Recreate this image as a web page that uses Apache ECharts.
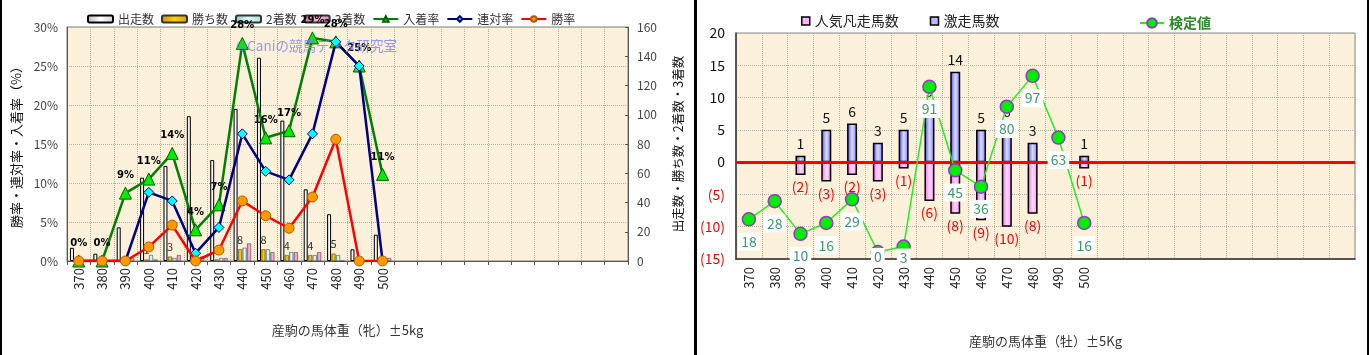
<!DOCTYPE html>
<html><head><meta charset="utf-8">
<script src="https://cdn.jsdelivr.net/npm/echarts@6/dist/echarts.min.js"></script>
<style>
html,body{margin:0;padding:0;background:#fff;}
#L{position:absolute;left:0;top:0;width:694px;height:355px;}
#R{position:absolute;left:697px;top:0;width:670px;height:355px;}
.b{position:absolute;top:0;height:355px;background:#000;}
</style></head>
<body>
<div id="L"></div><div id="R"></div>
<div class="b" style="left:0;width:2px"></div>
<div class="b" style="left:694px;width:3px"></div>
<div class="b" style="left:1367px;width:2px"></div>
<script>
// ---- categories (body weight ±5kg) ----
const weights = ['370','380','390','400','410','420','430','440','450','460','470','480','490','500',
                 '510','520','530','540','550','560','570','580','590','600'];
const lastLabeled = 500;

// ---- left chart (fillies) ----
const runners = [9,5,23,57,65,99,69,104,139,96,49,32,8,18];
const wins    = [0,0,0,1,3,0,1,8,8,4,4,5,0,0];
const seconds = [0,0,0,4,2,1,2,9,8,6,4,4,2,0];
const thirds  = [0,0,2,1,4,3,2,12,6,6,6,0,0,2];
const placeRate  = [0,0,8.7,10.5,13.8,4.0,7.2,27.9,15.8,16.7,28.6,28.1,25.0,11.1];
const rentaiRate = [0,0,0,8.8,7.7,1.0,4.3,16.3,11.5,10.4,16.3,28.1,25.0,0];
const winRate    = [0,0,0,1.8,4.6,0,1.4,7.7,5.8,4.2,8.2,15.6,0,0];
const leftTicks = {min:0,max:30,step:5};
const rightTicks = {min:0,max:160,step:20};

// ---- right chart (colts) ----
const upsetCounts   = [0,0,1,5,6,3,5,9,14,5,6,3,0,1];   // 激走馬数
const flopCounts    = [0,0,2,3,2,3,1,6,8,9,10,8,0,1];   // 人気凡走馬数
const testValues    = [18,28,10,16,29,0,3,91,45,36,80,97,63,16]; // 検定値

const FONT = '"Noto Sans CJK JP","Noto Sans CJK SC",sans-serif';
const BG = '#fbf0d9';
function hgrad(e1,c,e2){return new echarts.graphic.LinearGradient(0,0,1,0,[{offset:0,color:e1},{offset:0.5,color:c},{offset:1,color:e2}]);}
const xLabelFmt = v => (Number(v) <= lastLabeled ? v : '');

const L = echarts.init(document.getElementById('L'), null, {renderer:'canvas'});
const barCommon = {type:'bar', yAxisIndex:1, barWidth:4, barGap:'12%'};
L.setOption({
  animation:false,
  textStyle:{fontFamily:FONT},
  legend:{left:82, top:8, itemWidth:25, itemHeight:7, itemGap:7,
    textStyle:{fontSize:12, color:'#333'},
    data:['出走数','勝ち数','2着数','3着数','入着率','連対率','勝率']},
  graphic:[{type:'text', left:236, top:39, z:100, silent:true,
    style:{text:'©Caniの競馬データ研究室', fill:'rgba(125,125,255,0.8)', font:'13.5px '+FONT}}],
  grid:{left:67, top:27, width:561, height:234, show:true, backgroundColor:BG, borderColor:'#808080', borderWidth:1},
  xAxis:{type:'category', data:weights, name:'産駒の馬体重（牝）±5kg', nameLocation:'middle', nameGap:63,
    nameTextStyle:{fontSize:13, color:'#333'},
    axisLabel:{rotate:90, fontSize:13, color:'#222', interval:0, margin:7, formatter:xLabelFmt},
    axisTick:{show:true, length:4, lineStyle:{color:'#555'}},
    axisLine:{lineStyle:{color:'#555'}},
    splitLine:{show:true, lineStyle:{type:'dotted', color:'#b5ada0'}}},
  yAxis:[
    {type:'value', position:'left', min:leftTicks.min, max:leftTicks.max, interval:leftTicks.step,
     name:'勝率・連対率・入着率（%）', nameLocation:'middle', nameGap:40, nameRotate:90,
     nameTextStyle:{fontSize:13, color:'#111'},
     axisLabel:{formatter:'{value}%', fontSize:12, color:'#444', margin:9},
     axisLine:{show:true, lineStyle:{color:'#555'}}, axisTick:{show:false},
     splitLine:{show:true, lineStyle:{type:'dotted', color:'#b5ada0'}}},
    {type:'value', position:'right', min:rightTicks.min, max:rightTicks.max, interval:rightTicks.step,
     name:'出走数・勝ち数・2着数・3着数', nameLocation:'middle', nameGap:44, nameRotate:90,
     nameTextStyle:{fontSize:12.5, color:'#111'},
     axisLabel:{fontSize:12, color:'#444', margin:9},
     axisLine:{show:true, lineStyle:{color:'#555'}}, axisTick:{show:true, inside:true, length:3},
     splitLine:{show:false}}
  ],
  series:[
    Object.assign({name:'出走数', data:runners, itemStyle:{color:hgrad('#b8b8b8','#ffffff','#d0d0d0'), borderColor:'#000', borderWidth:1}}, barCommon),
    Object.assign({name:'勝ち数', data:wins, itemStyle:{color:hgrad('#c89200','#ffd000','#d9a000'), borderColor:'#333', borderWidth:0.5},
      label:{show:true, position:'top', fontSize:11, color:'#333', distance:4, formatter:p=>p.value>0?p.value:''}}, barCommon),
    Object.assign({name:'2着数', data:seconds, itemStyle:{color:hgrad('#88c4c4','#ddffff','#a8dddd'), borderColor:'#333', borderWidth:0.5}}, barCommon),
    Object.assign({name:'3着数', data:thirds, itemStyle:{color:hgrad('#d070a8','#ffb0d8','#e090c0'), borderColor:'#333', borderWidth:0.5}}, barCommon),
    {name:'入着率', type:'line', yAxisIndex:0, data:placeRate, z:5, symbol:'triangle', symbolSize:12,
     lineStyle:{color:'#008000', width:2.5}, itemStyle:{color:'#00ee00', borderColor:'#006000', borderWidth:1},
     label:{show:true, position:'top', distance:6, fontSize:10, fontWeight:'bold', color:'#000', fontFamily:'DejaVu Sans',
            formatter:p=>Math.round(p.value)+'%'}},
    {name:'連対率', type:'line', yAxisIndex:0, data:rentaiRate, z:6, symbol:'diamond', symbolSize:10,
     lineStyle:{color:'#000080', width:2.5}, itemStyle:{color:'#00ffff', borderColor:'#000080', borderWidth:1}},
    {name:'勝率', type:'line', yAxisIndex:0, data:winRate, z:7, symbol:'circle', symbolSize:10,
     lineStyle:{color:'#ff0000', width:2.5}, itemStyle:{color:'#ff9900', borderColor:'#b35900', borderWidth:1}}
  ]
});

// ---- right chart ----
const R = echarts.init(document.getElementById('R'), null, {renderer:'canvas'});
const flopNeg = flopCounts.map(v => -v);
// labels of points sitting at the very bottom are drawn over the marker, as in the reference
const testData = testValues.map(v => v < 5
  ? {value:v, label:{position:'inside', offset:[0, v < 1 ? 5 : 11]}}
  : v);
R.setOption({
  animation:false,
  textStyle:{fontFamily:FONT},
  legend:[
    {left:99, top:9, itemWidth:8, itemHeight:8, itemGap:31, icon:'rect',
     textStyle:{fontSize:14, color:'#222'},
     data:[{name:'人気凡走馬数', itemStyle:{color:'#ffb0ff', borderColor:'#000', borderWidth:1.5}},
           {name:'激走馬数', itemStyle:{color:'#b8b8ff', borderColor:'#000', borderWidth:1.5}}]},
    {left:437, top:11, itemWidth:24, itemHeight:12, textStyle:{fontSize:14, color:'#2a8a2a', fontWeight:'bold'}, data:['検定値']}
  ],
  grid:{left:37, top:33, width:621, height:226, show:true, backgroundColor:BG, borderColor:'#8a8a8a', borderWidth:1},
  xAxis:{type:'category', data:weights, name:'産駒の馬体重（牡）±5Kg', nameLocation:'middle', nameGap:76,
    nameTextStyle:{fontSize:13, color:'#333'},
    axisLabel:{rotate:90, fontSize:13, color:'#222', interval:0, margin:8, formatter:xLabelFmt},
    axisTick:{show:false},
    axisLine:{onZero:false, lineStyle:{color:'#333', width:1.5}},
    splitLine:{show:true, lineStyle:{type:'dotted', color:'#b5ada0'}}},
  yAxis:[
    {type:'value', min:-15, max:20, interval:5,
     axisLabel:{fontSize:14, color:'#111', margin:11,
       formatter:v=> v<0 ? '{r|('+(-v)+')}' : String(v), rich:{r:{color:'#ff0000', fontSize:14}}},
     axisLine:{show:true, lineStyle:{color:'#333', width:1.5}}, axisTick:{show:false},
     splitLine:{show:true, lineStyle:{type:'dotted', color:'#b5ada0'}}},
    {type:'value', min:-3.85, max:120.6, show:false, splitLine:{show:false}}
  ],
  series:[
    {name:'人気凡走馬数', type:'bar', stack:'g', data:flopNeg, barWidth:10, z:2,
     itemStyle:{color:hgrad('#ff55ff','#ffdcff','#ff88ff'), borderColor:'#000', borderWidth:1.5},
     label:{show:true, position:'bottom', distance:5, fontSize:14, color:'#ff0000', formatter:p=>p.value<0?'('+(-p.value)+')':''}},
    {name:'激走馬数', type:'bar', stack:'g', data:upsetCounts, barWidth:10, z:2,
     itemStyle:{color:hgrad('#4040ff','#dcdcff','#7878ff'), borderColor:'#000', borderWidth:1.5},
     label:{show:true, position:'top', distance:5, fontSize:14, color:'#111', formatter:p=>p.value>0?p.value:''},
     markLine:{symbol:'none', silent:true, label:{show:false}, lineStyle:{color:'#ff0000', width:3, type:'solid'}, data:[{yAxis:0}]}},
    {name:'検定値', type:'line', yAxisIndex:1, data:testData, z:8, symbol:'circle', symbolSize:13,
     lineStyle:{color:'#22ee22', width:1.5}, itemStyle:{color:'#00ee00', borderColor:'#9933cc', borderWidth:1.5},
     label:{show:true, position:'bottom', distance:6, fontSize:14, color:'#3c9a6e', backgroundColor:'#ffffff', padding:[2,3]}}
  ]
});
</script>
</body></html>
